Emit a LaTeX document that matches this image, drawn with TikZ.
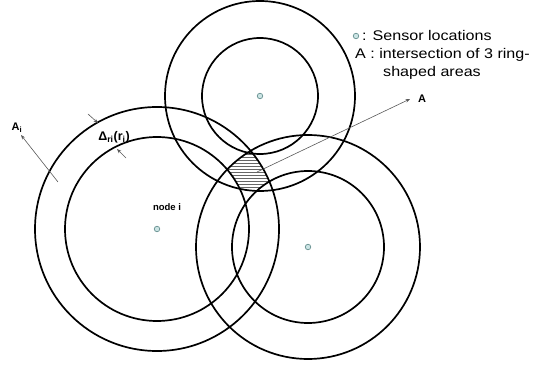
\documentclass[tikz,border=0pt]{standalone}
\usepackage{fontspec}
\setmainfont{Liberation Sans}
\usetikzlibrary{arrows.meta}
\begin{document}
\begin{tikzpicture}[x=1pt,y=-1pt,
  ring/.style={draw=black,line width=1.7pt},
  sensor/.style={circle,draw=black!45!teal!60,fill=teal!20!white,line width=0.7pt,minimum size=5.5pt,inner sep=0pt},
  pointer/.style={draw=black!65,line width=0.6pt,-{Stealth[length=4.5pt,width=3.5pt]}},
  hatch/.style={draw=black!60,line width=0.5pt},
  lbl/.style={font=\bfseries\fontsize{11}{13}\selectfont,inner sep=0pt},
  legend/.style={font=\fontsize{14}{16}\selectfont,inner sep=0pt,anchor=base west,xscale=1.15,transform shape}]
\useasboundingbox (0,0) rectangle (538,366);

% sensor positions
\coordinate (ci) at (157,229);
\coordinate (ct) at (260,96);
\coordinate (cr) at (308,247);

% hatched intersection of the three rings: lines inside all outer discs,
% then the inner discs blanked out again
\begin{scope}
  \clip (ci) circle[radius=122pt];
  \clip (ct) circle[radius=95pt];
  \clip (cr) circle[radius=112pt];
  \foreach \y in {148,151,...,196} \draw[hatch] (200,\y) -- (300,\y);
  \fill[white] (ci) circle[radius=92pt];
  \fill[white] (ct) circle[radius=58pt];
  \fill[white] (cr) circle[radius=76pt];
\end{scope}

% rings
\draw[ring] (ci) circle[radius=122pt] (ci) circle[radius=92pt];
\draw[ring] (ct) circle[radius=95pt] (ct) circle[radius=58pt];
\draw[ring] (cr) circle[radius=112pt] (cr) circle[radius=76pt];

% sensors
\node[sensor] (ni) at (ci) {};
\node[sensor] (nt) at (ct) {};
\node[sensor] (nr) at (cr) {};

% labels
\node[lbl,font=\bfseries\fontsize{9.5}{11}\selectfont] (lni) at (167,207) {node i};
\node[lbl] (lA) at (422,99) {A};
\node[lbl] (lAi) at (17,128) {A\textsubscript{i}};
\node[lbl,font=\bfseries\fontsize{12.5}{14}\selectfont] (ldelta) at (114,137) {Δ\textsubscript{ri}(r\textsubscript{i})};

% pointers
\coordinate (aS) at (257,172);
\coordinate (aT) at (410,99);
\draw[pointer] (aS) -- (aT);
\coordinate (aiS) at (58,182);
\coordinate (aiT) at (21,135);
\draw[pointer] (aiS) -- (aiT);
\coordinate (d1S) at (88,114);
\coordinate (d1T) at (98,123);
\draw[pointer] (d1S) -- (d1T);
\coordinate (d2S) at (126,158);
\coordinate (d2T) at (117,149);
\draw[pointer] (d2S) -- (d2T);

% legend
\node[sensor] (leg) at (356,36) {};
\node[legend] (l1) at (362,41) {: Sensor locations};
\node[legend] (l2) at (355,59) {A : intersection of 3 ring-};
\node[legend] (l3) at (383,77) {shaped areas};
\end{tikzpicture}
\end{document}
